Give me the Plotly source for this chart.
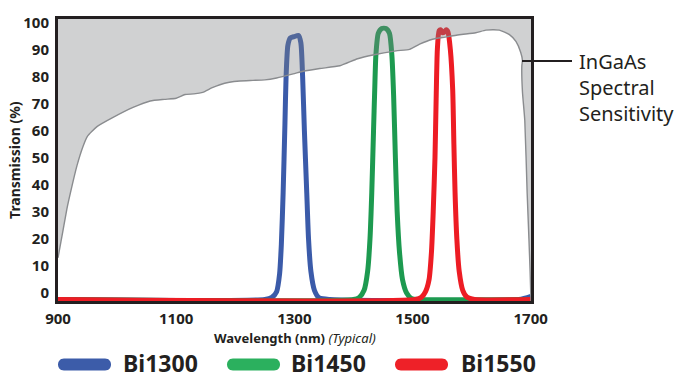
import plotly.graph_objects as go

# ---------------- data ----------------
ingaas_nm = [900, 905, 910, 915, 921, 932, 942, 950, 966, 994, 1027, 1056, 1080, 1100, 1115, 1130, 1145,
             1160, 1174, 1190, 1208, 1230, 1250, 1270, 1298, 1315, 1343, 1377, 1407, 1433, 1472, 1495,
             1512, 1534, 1555, 1579, 1607, 1624, 1647, 1664, 1675, 1683, 1686, 1685, 1686, 1690, 1694,
             1697, 1699, 1700.5]
ingaas_val = [13, 19, 25, 31, 37, 47, 54, 58, 61.5, 65, 68.6, 71, 71.6, 72, 73.4, 73.6, 74.2,
              75.8, 77, 77.9, 78.4, 78.6, 78.8, 79.5, 81, 82, 83, 84, 86.6, 88, 89.5, 90.1,
              92, 93.8, 94.6, 95.5, 96.2, 97.2, 97.2, 95.5, 93, 89, 86, 84, 74.5, 63.7, 37,
              20, 8, -3]

bi1300_nm = [900, 1250, 1262, 1270, 1275, 1278, 1281, 1284, 1286, 1289, 1293, 1300, 1307, 1311,
             1314, 1317, 1321, 1324, 1328, 1334, 1342, 1360, 1680, 1700.5]
bi1300_val = [-2.4, -2.4, -1.6, 0.5, 7, 18, 37, 62, 80, 91.5, 94.3, 94.8, 95.2, 92.5,
              80, 60, 37, 20, 8, 1, -1.8, -2.4, -2.4, -1.2]

bi1450_nm = [900, 1400, 1410, 1418, 1424, 1428, 1431, 1434, 1436, 1438, 1442, 1448, 1455, 1461,
             1465, 1468, 1471, 1474, 1478, 1483, 1490, 1498, 1510, 1700.5]
bi1450_val = [-2.4, -2.4, -1.6, 1, 8, 20, 37, 60, 75, 88, 96, 97.8, 97.8, 96,
              88, 73, 50, 30, 15, 5, 0, -2, -2.4, -2.4]

bi1550_nm = [900, 1505, 1515, 1522, 1528, 1532, 1535, 1538, 1540, 1542, 1545, 1548, 1551, 1554,
             1557, 1560, 1564, 1568, 1570, 1572, 1575, 1579, 1585, 1592, 1605, 1700.5]
bi1550_val = [-2.4, -2.4, -1.6, 0.5, 5, 15, 30, 50, 72, 90, 97, 97.3, 96.2, 96.5,
              97.3, 96.5, 90, 75, 55, 37, 20, 8, 1, -1.5, -2.4, -2.4]

series_names = ["Bi1300", "Bi1450", "Bi1550"]
line_colors = ["#3b5ba9", "#1d9a50", "#ed1c24"]
legend_colors = ["#3c5ca9", "#2bb05e", "#ee2128"]

x_ticks = [900, 1100, 1300, 1500, 1700]
y_ticks = [0, 10, 20, 30, 40, 50, 60, 70, 80, 90, 100]

X_RANGE = [900, 1700.5]
Y_RANGE = [-2.95, 101.3]
FILL_TOP = 115

DARK = "#231f20"
FONT = "Noto Sans"

fig = go.Figure()

# filter curves
for nm, val, name, col in zip([bi1300_nm, bi1450_nm, bi1550_nm],
                              [bi1300_val, bi1450_val, bi1550_val],
                              series_names, line_colors):
    fig.add_trace(go.Scatter(x=nm, y=val, mode="lines", name=name,
                             line=dict(color=col, width=5, shape="spline", smoothing=0.6),
                             showlegend=False, hoverinfo="skip"))

# gray sensitivity region (above curve), drawn over filters semi-transparently
fig.add_trace(go.Scatter(x=[X_RANGE[0] - 5, X_RANGE[1] + 5], y=[FILL_TOP, FILL_TOP], mode="lines",
                         line=dict(width=0), showlegend=False, hoverinfo="skip"))
fig.add_trace(go.Scatter(x=ingaas_nm, y=ingaas_val, mode="lines", fill="tonexty",
                         fillcolor="rgba(125,127,131,0.36)",
                         line=dict(color="#8a8c8f", width=1.4, shape="spline", smoothing=0.5),
                         showlegend=False, hoverinfo="skip"))

# ---------------- layout ----------------
L, R, T, B = 58, 148, 12, 78
W, H = 679, 379
pw = W - L - R
ph = H - T - B

def px_x(p):
    return (p - L) / pw

def px_y(p):
    return (H - B - p) / ph

fig.update_layout(
    width=W, height=H,
    margin=dict(l=L, r=R, t=T, b=B),
    paper_bgcolor="white", plot_bgcolor="white",
    font=dict(family=FONT, color=DARK),
    showlegend=False,
    xaxis=dict(range=X_RANGE, tickvals=x_ticks, ticktext=[str(v) for v in x_ticks],
               showgrid=False, zeroline=False, showline=True, linecolor=DARK, linewidth=3,
               mirror=True, ticks="", tickfont=dict(size=15, family=FONT, color=DARK, weight="bold"),
               ticklabelstandoff=2),
    yaxis=dict(range=Y_RANGE, tickvals=y_ticks, ticktext=[str(v) for v in y_ticks],
               showgrid=False, zeroline=False, showline=True, linecolor=DARK, linewidth=3,
               mirror=True, ticks="", tickfont=dict(size=15, family=FONT, color=DARK, weight="bold"),
               ticklabelstandoff=3),
)

annotations = []
# axis titles
annotations.append(dict(text="<b>Wavelength (nm)</b> <i>(Typical)</i>", xref="paper", yref="paper",
                        x=0.5, y=px_y(339), xanchor="center", yanchor="middle", showarrow=False,
                        font=dict(size=13, family=FONT, color=DARK)))
annotations.append(dict(text="<b>Transmission (%)</b>", xref="paper", yref="paper",
                        x=px_x(14), y=0.5, xanchor="center", yanchor="middle", showarrow=False,
                        textangle=-90, font=dict(size=14, family=FONT, color=DARK)))
# InGaAs label
annotations.append(dict(text="InGaAs<br>Spectral<br>Sensitivity", xref="paper", yref="paper",
                        x=px_x(577), y=px_y(82), xanchor="left", yanchor="middle", align="left",
                        showarrow=False, font=dict(size=20, family=FONT, color=DARK)))

shapes = [dict(type="line", xref="paper", yref="paper", x0=px_x(522), x1=px_x(572),
               y0=px_y(55), y1=px_y(55), line=dict(color=DARK, width=2))]

# custom legend
leg_y = px_y(365)
swatch_left = [58, 227, 395]
text_left = [122, 290, 460]
for sl, tl, name, col in zip(swatch_left, text_left, series_names, legend_colors):
    shapes.append(dict(type="path", xref="paper", yref="paper", xsizemode="pixel", ysizemode="pixel",
                       xanchor=px_x(sl), yanchor=px_y(366),
                       path="M6,-6 L47,-6 C55,-6 55,6 47,6 L6,6 C-2,6 -2,-6 6,-6 Z",
                       fillcolor=col, line=dict(width=0)))
    annotations.append(dict(text="<b>%s</b>" % name, xref="paper", yref="paper",
                            x=px_x(tl), y=leg_y, xanchor="left", yanchor="middle", showarrow=False,
                            borderpad=0,
                            font=dict(size=23, family=FONT, color=DARK)))

fig.update_layout(annotations=annotations, shapes=shapes)

fig.write_html("out.html")
